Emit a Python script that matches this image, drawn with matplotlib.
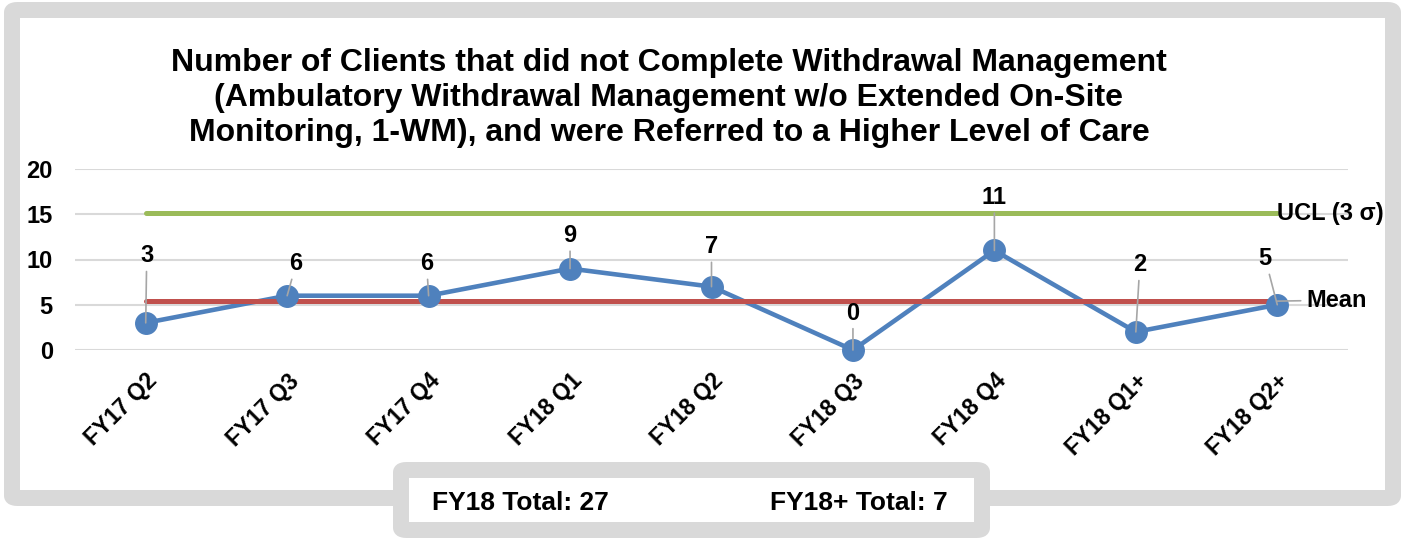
import matplotlib
matplotlib.use('Agg')
import matplotlib.pyplot as plt
from matplotlib.patches import FancyBboxPatch

plt.rcParams['font.family'] = ['Liberation Sans', 'DejaVu Sans']
plt.rcParams['font.weight'] = 'bold'

# ── data ────────────────────────────────────────────────────────────────
quarters = ['FY17 Q2', 'FY17 Q3', 'FY17 Q4', 'FY18 Q1', 'FY18 Q2',
            'FY18 Q3', 'FY18 Q4', 'FY18 Q1+', 'FY18 Q2+']
clients = [3, 6, 6, 9, 7, 0, 11, 2, 5]
mean_val = 5.4
ucl_val = 15.1
totals = ['FY18 Total: 27', 'FY18+ Total: 7']
title = ('Number of Clients that did not Complete Withdrawal Management\n'
         '(Ambulatory Withdrawal Management w/o Extended On-Site\n'
         'Monitoring, 1-WM), and were Referred to a Higher Level of Care')

# label offsets (pixels) for data labels
label_off = [(1, 67), (9, 32), (-2, 32), (0, 33), (0, 40),
             (0, 37), (0, 53), (4, 67), (-12, 46)]

W, H = 1403, 539
fig = plt.figure(figsize=(W / 100, H / 100), dpi=100)
fig.patch.set_facecolor('white')

GRAY = '#d9d9d9'
BLUE = '#4f81bd'
RED = '#c0504d'
GREEN = '#9bbb59'


def px_box(x0, y0, x1, y1, z, face):
    # box from pixel coords (top-left origin), line centred on the given edges
    p = FancyBboxPatch((x0 / W, 1 - y1 / H), (x1 - x0) / W, (y1 - y0) / H,
                       boxstyle='round,pad=0,rounding_size=0.004',
                       transform=fig.transFigure, facecolor=face,
                       edgecolor=GRAY, linewidth=11.5, zorder=z)
    p.set_joinstyle('round')
    fig.patches.append(p)


# outer frame + totals box
px_box(12, 10, 1393, 498, 0, 'none')
px_box(401, 470, 982, 530, 5, 'white')

# ── plot ────────────────────────────────────────────────────────────────
ax = fig.add_axes([75 / W, 1 - 350 / H, (1348 - 75) / W, (350 - 169) / H])
ax.set_zorder(1)
ax.set_facecolor('none')
x = list(range(len(quarters)))

ax.plot(x, clients, color=BLUE, lw=3.3, zorder=2, solid_capstyle='round',
        clip_on=False)
ax.plot([x[0], x[-1]], [mean_val, mean_val], color=RED, lw=3.6,
        solid_capstyle='round', zorder=3)
ax.plot([x[0], x[-1]], [ucl_val, ucl_val], color=GREEN, lw=3.6,
        solid_capstyle='round', zorder=3)
ax.plot(x, clients, 'o', color=BLUE, ms=15.5, zorder=4, clip_on=False)

for xi, v, (dx, dy) in zip(x, clients, label_off):
    ax.annotate(str(v), xy=(xi, v), xytext=(dx, dy), textcoords='offset pixels',
                ha='center', va='center', fontsize=17, fontweight='bold',
                arrowprops=dict(arrowstyle='-', color='#a6a6a6', lw=1.2,
                                shrinkA=1, shrinkB=0),
                zorder=6, annotation_clip=False)

ax.annotate('Mean', xy=(x[-1], mean_val), xytext=(29, 1),
            textcoords='offset pixels', ha='left', va='center',
            fontsize=17, fontweight='bold',
            arrowprops=dict(arrowstyle='-', color='#a6a6a6', lw=1.2,
                            shrinkA=2, shrinkB=0), zorder=6,
            annotation_clip=False)
ax.annotate('UCL (3 σ)', xy=(x[-1], ucl_val), xytext=(0, 0),
            textcoords='offset pixels', ha='left', va='center',
            fontsize=17, fontweight='bold', zorder=6,
            annotation_clip=False)

ax.set_xlim(-0.5, len(quarters) - 0.5)
ax.set_ylim(0, 20)
ax.set_yticks([0, 5, 10, 15, 20])
ax.set_xticks(x)
ax.set_xticklabels(quarters, rotation=45, ha='right', rotation_mode='anchor')
ax.tick_params(axis='both', length=0, labelsize=17)
ax.tick_params(axis='x', labelsize=16.5)
ax.tick_params(axis='y', pad=16)
ax.tick_params(axis='x', pad=14)
for lbl in ax.get_xticklabels() + ax.get_yticklabels():
    lbl.set_fontweight('bold')
ax.grid(axis='y', color=GRAY, lw=1.5, zorder=0)
ax.set_axisbelow(True)
for s in ax.spines.values():
    s.set_visible(False)

# ── texts ───────────────────────────────────────────────────────────────
fig.text(669 / W, 1 - 98 / H, title, ha='center', va='center',
         fontsize=23, fontweight='bold', linespacing=1.2)
fig.text(432 / W, 1 - 503 / H, totals[0], ha='left', va='center',
         fontsize=19, fontweight='bold', zorder=7)
fig.text(948 / W, 1 - 503 / H, totals[1], ha='right', va='center',
         fontsize=19, fontweight='bold', zorder=7)

plt.savefig('out.png', dpi=100, facecolor='white')
plt.close()
